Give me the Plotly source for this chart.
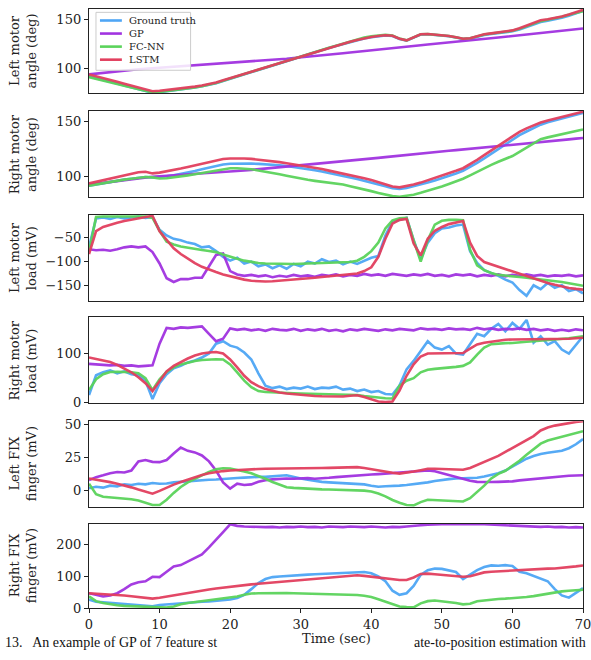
import plotly.graph_objects as go

TIME = list(range(0, 71))

SERIES_NAMES = ["Ground truth", "GP", "FC-NN", "LSTM"]
COLORS = ["#4fa6f5", "#a133e0", "#5bd35b", "#e23f5e"]

PANEL_LABELS = ["Left motor<br>angle (deg)", "Right motor<br>angle (deg)",
                "Left motor<br>load (mV)", "Right motor<br>load (mV)",
                "Left FIX<br>finger (mV)", "Right FIX<br>finger (mV)"]
Y_TICKS = [[100, 150], [100, 150], [-150, -100, -50], [0, 100], [0, 25, 50], [0, 100, 200]]
X_TICKS = [0, 10, 20, 30, 40, 50, 60, 70]
CAPTION_LEFT = "13.   An example of GP of 7 feature st"
CAPTION_RIGHT = "ate-to-position estimation with"

# ---- Panel 1: Left motor angle ----
gt1 = [92, 90.3, 88.5, 86.6, 84.6, 82.6, 80.6, 78.6, 76.6, 75.2, 75.8, 76.6, 77.5, 78.4, 79.4, 80.5, 81.8, 83.2, 85, 87.3,
       89.6, 91.8, 94, 96.3, 98.6, 100.9, 103.1, 105.4, 107.7, 110, 112.2, 114.5, 116.8, 119, 121.1, 123.1, 125.1, 127.1, 129, 130.8,
       132.1, 133.1, 133.8, 133.2, 130.2, 128.5, 131.7, 134.7, 135, 134.5, 133.9, 133, 131.7, 130.2, 130.6, 132.5, 134.4, 135.4, 136.3, 137.2,
       138.1, 140, 142.6, 145.3, 147.6, 149, 150.4, 152, 154, 156.6, 159]
gp1 = [94, 94.8, 95.8, 96.3, 97.2, 97.8, 98.6, 99.2, 99.8, 100.3, 100.6, 101.2, 101.8, 102.1, 102.6, 103, 103.5, 104, 104.6, 105,
       105.6, 106, 106.4, 107, 107.6, 108.1, 108.7, 109.4, 110, 110.7, 111.3, 112, 112.6, 113.3, 114, 114.8, 115.6, 116.4, 117.2, 118,
       118.8, 119.6, 120.3, 121, 121.7, 122.4, 123.1, 123.8, 124.5, 125.3, 126, 126.8, 127.6, 128.3, 129, 129.7, 130.4, 131.1, 131.8, 132.5,
       133.3, 134, 134.8, 135.6, 136.4, 137.2, 138, 138.8, 139.6, 140.4, 141]
fc1 = [91.2, 89.6, 88, 86.2, 84.3, 82.4, 80.5, 78.6, 76.8, 75.5, 76, 76.8, 77.7, 78.6, 79.6, 80.7, 82, 83.4, 85.2, 87.5,
       89.8, 92, 94.2, 96.5, 98.8, 101.1, 103.3, 105.6, 107.9, 110.2, 112.4, 114.7, 117, 119.2, 121.3, 123.4, 125.5, 127.6, 129.7, 131.6,
       133, 134, 134.6, 133.8, 130.6, 128.8, 132, 135, 135.2, 134.7, 134.1, 133.2, 131.9, 130.4, 130.9, 132.8, 134.8, 135.8, 136.7, 137.6,
       138.6, 140.6, 143.3, 146, 148.5, 150, 151.4, 153, 155, 157.2, 158.8]
ls1 = [94, 92.3, 90.5, 88.5, 86.5, 84.5, 82.5, 80.5, 78.3, 76.8, 77.3, 78, 78.8, 79.6, 80.5, 81.5, 82.7, 84, 85.8, 88,
       90.2, 92.3, 94.5, 96.7, 99, 101.2, 103.4, 105.7, 108, 110.3, 112.5, 114.7, 117, 119.2, 121.3, 123.3, 125.3, 127.3, 129.2, 131,
       132.3, 133.3, 134, 133.5, 130.5, 128.8, 132, 135, 135.3, 134.8, 134.2, 133.3, 132, 130.5, 131, 133, 135, 136, 137, 138,
       139, 141.2, 144, 146.8, 149.3, 150.5, 151.8, 153.3, 155.3, 157.8, 160]

# ---- Panel 2: Right motor angle ----
gt2 = [91.8, 93, 94.2, 95.3, 96.3, 97.2, 98, 98.8, 99.5, 99.2, 99.5, 100.2, 101.2, 102.3, 103.6, 105, 106.5, 108, 109.5, 110.8,
       111.5, 111.7, 111.7, 111.6, 111.4, 111.1, 110.7, 110.2, 109.5, 108.7, 107.8, 106.8, 105.7, 104.5, 103.3, 102, 100.6, 99.2, 97.8, 96.3,
       94.7, 93, 91.2, 89.5, 88.8, 89.7, 91.1, 92.7, 94.5, 96.5, 98.5, 100.6, 102.8, 105.2, 108.5, 112.3, 116.3, 120.4, 124.7, 129,
       133.3, 137.3, 140.6, 143.8, 146.8, 149, 150.8, 152.5, 154.2, 156, 157.5]
gp2 = [92.7, 93.5, 94.5, 95.3, 96.2, 97, 97.8, 98.6, 99.3, 99.8, 100.2, 100.6, 101, 101.4, 101.8, 102.2, 102.6, 103, 103.3, 103.6,
       104, 104.7, 105.4, 106, 106.6, 107.2, 107.7, 108.3, 108.9, 109.5, 110, 110.5, 111, 111.5, 112, 112.7, 113.4, 114, 114.6, 115.3,
       116, 116.8, 117.5, 118.2, 118.8, 119.5, 120.2, 120.8, 121.4, 122, 122.6, 123.2, 123.8, 124.4, 124.9, 125.4, 125.9, 126.4, 126.9, 127.4,
       128, 128.6, 129.3, 130, 130.7, 131.4, 132.1, 132.8, 133.5, 134.2, 134.7]
fc2 = [91.8, 93, 94.2, 95.3, 96.3, 97.2, 98, 98.8, 99.5, 99.2, 98.2, 98.5, 99.2, 100, 101, 102, 103.2, 104.4, 105.6, 106.8,
       107.4, 107.4, 107, 106.5, 105.5, 104.5, 103.3, 102, 100.7, 99.3, 98, 97, 96.1, 95.3, 94.7, 94, 92.8, 91.3, 89.6, 88.2,
       86.8, 85.2, 83.6, 82.3, 81.8, 82.5, 83.6, 85.3, 87, 89, 91, 93.3, 95.6, 98, 101, 104.3, 107.5, 110.5, 113.3, 115.8,
       118.5, 122.3, 126.2, 130.2, 133.7, 135.3, 136.8, 138.3, 139.8, 141.2, 142.4]
ls2 = [93.8, 95.3, 96.8, 98.3, 99.8, 101.2, 102.5, 103.8, 104.3, 102.8, 103.5, 104.6, 105.8, 107.2, 108.6, 110, 111.5, 113, 114.5, 115.8,
       116.3, 116.5, 116.3, 115.9, 115.3, 114.6, 113.8, 113, 112, 111, 110, 109, 108, 106.8, 105.3, 104, 102.7, 101.3, 100, 98.5,
       96.8, 95, 93, 91, 90.2, 91.2, 92.7, 94.5, 96.5, 98.6, 100.7, 102.8, 105.2, 107.5, 111, 115, 119.3, 123.5, 127.7, 132,
       136.3, 140.3, 143.5, 146.5, 148.8, 150.5, 152, 153.6, 155.2, 157, 158.5]

# ---- Panel 3: Left motor load ----
gt3 = [-70, -9, -7, -10, -6, -9, -7, -5, -8, -6, -33, -45, -52, -55, -60, -63, -70, -68, -78, -90,
       -98, -92, -104, -100, -110, -106, -114, -108, -115, -105, -110, -100, -104, -95, -101, -98, -106, -100, -105, -98,
       -92, -88, -45, -16, -12, -8, -55, -95, -60, -40, -30, -28, -24, -22, -78, -103, -118, -124, -130, -138,
       -144, -160, -172, -150, -158, -145, -155, -150, -162, -158, -167]
gp3 = [-74, -76, -75, -77, -74, -70, -68, -70, -68, -80, -104, -135, -143, -137, -137, -134, -134, -110, -86, -83,
       -120, -127, -130, -128, -131, -129, -133, -130, -132, -128, -131, -129, -132, -128, -130, -127, -131, -128, -130, -126,
       -129, -127, -130, -126, -128, -130, -127, -129, -126, -130, -128, -131, -127, -129, -127, -131, -128, -130, -127, -131,
       -128, -130, -127, -130, -128, -131, -129, -130, -128, -131, -129]
fc3 = [-80, -6, -5, -5, -5, -5, -5, -5, -5, -8, -35, -58, -64, -68, -71, -73.5, -75.5, -77.5, -80, -85,
       -90, -94, -98, -101, -103, -104, -104.5, -105, -105, -105, -104.5, -104, -104, -103.5, -103, -102.5, -102, -101, -98, -90,
       -78, -60, -30, -13, -9, -8, -55, -100, -55, -22, -14, -12, -12, -13, -75, -108, -118, -124, -128, -130,
       -131.5, -132.5, -134, -135.5, -137, -138.5, -140.5, -143, -145.5, -148, -151]
ls3 = [-84, -36, -27, -22, -18, -14.5, -12, -9, -6, -3.5, -36, -55, -72, -84, -94, -103, -111, -117, -122, -127,
       -131, -135, -138, -140.5, -141.5, -142, -141.5, -140.5, -139.5, -138.5, -137, -135.5, -134, -132.5, -131, -129.5, -128, -126.5, -125, -120,
       -112, -90, -52, -20, -12, -10, -62, -87, -52, -35, -27, -21, -17, -14.5, -60, -88, -101, -106, -111, -115,
       -120, -125, -130, -136, -141, -145, -149, -152.5, -155.5, -157.5, -159]

# ---- Panel 4: Right motor load ----
gt4 = [16, 56, 62, 66, 60, 64, 58, 56, 45, 8, 40, 58, 70, 75, 82, 86, 92, 100, 120, 125,
       116, 112, 102, 88, 60, 35, 30, 33, 28, 31, 29, 33, 28, 31, 30, 33, 27, 29, 24, 27,
       22, 24, 18, 17, 35, 68, 85, 105, 125, 112, 108, 115, 100, 98, 120, 140, 135, 150, 160, 145,
       162, 150, 168, 122, 135, 118, 125, 108, 100, 118, 135]
gp4 = [79, 78, 77, 76, 77, 75, 76, 74, 75, 76, 120, 152, 150, 153, 152, 154, 155, 140, 125, 130,
       151, 148, 150, 147, 149, 146, 150, 148, 147, 150, 146, 149, 147, 150, 146, 148, 145, 149, 147, 150,
       148, 146, 149, 147, 150, 148, 147, 151, 149, 150, 148, 151, 149, 150, 148, 152, 149, 151, 148, 150,
       149, 151, 148, 150, 147, 149, 146, 148, 146, 149, 147]
fc4 = [26, 48, 58, 62.5, 63, 63, 62, 60, 50, 26, 48, 63, 72, 78, 82, 85, 87, 88, 88.5, 88,
       78, 62, 45, 32, 24, 22, 21, 20.5, 20, 19.5, 19, 18.5, 18, 18, 18, 17.5, 17, 17, 16, 14,
       12, 10.5, 9.5, 9, 35, 45, 50, 62, 67, 69, 70, 72, 73, 75, 82, 98, 112, 119, 120.5, 121,
       121.5, 122, 124, 125, 126, 127, 128, 129.5, 131, 133, 135]
ls4 = [92, 89, 86, 83, 77, 70, 62, 52, 40, 24, 45, 64, 75, 83, 90, 96, 100, 102, 103, 100,
       88, 72, 55, 42, 34, 28, 24, 21, 19, 17.5, 16, 15, 14, 13.5, 13, 12.5, 13, 14.5, 15.5, 12,
       7, 3, 2, 3, 25, 55, 78, 94, 100, 100.5, 100.5, 100.5, 100.5, 101, 110, 118.5, 122, 124.5, 126.5, 128,
       128.5, 128.7, 128.8, 128.8, 128.5, 128.5, 128.3, 129, 130, 131, 132]

# ---- Panel 5: Left FIX finger ----
gt5 = [1.5, 2.7, 2, 3.5, 3, 4.5, 4, 5, 4.5, 5.5, 5, 5.2, 6, 6.5, 7, 7.5, 7.7, 8, 8.2, 8.7,
       9, 9.3, 9.6, 10, 10.2, 10.2, 10.8, 11, 11.4, 10, 9, 8, 7, 6.4, 6, 5.8, 5.5, 5.3, 5.2, 4.5,
       3.5, 2.7, 3, 3, 3.5, 4, 4.5, 5.2, 6, 7, 8, 8.5, 9, 9, 9, 9.5, 10.5, 11.5, 13, 15,
       18, 21.5, 24, 26, 27.6, 28.5, 29.5, 30, 32, 35, 39]
gp5 = [7.7, 10, 11.4, 13, 13.9, 13.5, 15, 22, 23, 21.6, 21.4, 23, 28, 32.5, 30, 28.8, 26.5, 22, 15, 6,
       1.2, 5, 4, 4.5, 6.5, 7.7, 8.3, 8.7, 9, 8.8, 9, 9.2, 8.8, 9, 9.5, 10, 10.5, 11, 11.4, 11.6,
       12, 12.3, 12.7, 13.2, 13.8, 14, 14.3, 14.7, 15, 14.5, 13, 11.4, 10, 8.5, 7.3, 6.4, 6.2, 6.3, 6.4, 6.4,
       6.8, 7.5, 8, 8.7, 9.3, 9.8, 10.2, 10.6, 11, 11.2, 11.4]
fc5 = [5, -3, -5, -5.5, -5.8, -6, -6.8, -7.8, -9.5, -11.2, -11.2, -7.2, -2, 2.5, 6, 8.8, 11.5, 14, 16, 16.8,
       16.6, 15.6, 14.3, 12.9, 11, 8.8, 6.3, 4, 2.3, 1.8, 1.4, 1.1, 0.9, 0.7, 0.6, 0.5, 0.4, 0.3, 0.1, -0.3,
       -1, -2.5, -4.6, -7.4, -9.5, -11.2, -11.5, -9, -7.2, -7.5, -7.8, -8, -8.3, -8.5, -6, -1.5, 3.5, 9, 12.5, 14.8,
       18.5, 22.5, 27, 31.5, 35.5, 37.8, 39.3, 40.8, 42.3, 43.8, 45]
ls5 = [9, 8.2, 7.2, 6.2, 5, 3.7, 2.2, 0.5, -1.3, -2.6, -0.5, 2, 4.3, 6.3, 8.3, 10, 11.7, 12.9, 13.9, 14.6,
       15.1, 15.5, 15.8, 16, 16.2, 16.4, 16.4, 16.4, 16.4, 16.5, 16.6, 16.7, 16.8, 16.9, 17, 17.2, 17.4, 17.5, 17.6, 17,
       16, 15, 14.3, 13.3, 12.7, 13.3, 14.3, 15.3, 16.4, 16.4, 16.2, 16, 15.8, 15.6, 17, 19.2, 21.5, 23.8, 26.2, 29.2,
       32.2, 35.2, 38.2, 41.2, 45.5, 47.8, 49.2, 50.3, 51.2, 52, 52.5]

# ---- Panel 6: Right FIX finger ----
gt6 = [27, 20, 18, 16, 15, 13, 12, 10, 8, 6, 10, 12, 14, 15, 17, 18, 20, 21, 23, 25,
       27, 32, 42, 60, 79, 92, 98, 100, 102, 104, 105, 106, 107, 108, 109, 110, 112, 113, 115, 114,
       110, 100, 85, 55, 42, 47, 70, 105, 120, 125, 124, 120, 114, 92, 105, 120, 130, 135, 134, 136,
       133, 115, 110, 102, 95, 85, 60, 40, 33, 47, 63]
gp6 = [47, 42, 37, 40, 47, 60, 75, 82, 85, 99, 98, 115, 132, 136, 148, 160, 170, 192, 215, 240,
       265, 260, 258, 257, 258, 256, 257, 255, 257, 256, 258, 256, 257, 255, 258, 257, 256, 258, 257, 256,
       258, 256, 255, 257, 256, 258, 259, 262, 264, 265, 264, 266, 265, 266, 265, 266, 265, 264, 262, 261,
       260, 259, 260, 258, 257, 258, 256, 257, 255, 256, 255]
fc6 = [37, 22, 16, 12, 9, 7, 6, 5, 4, 3, 2, 1.5, 5, 12, 16, 19, 22, 25, 27, 30,
       33, 37, 42, 46, 47, 47.5, 48, 48, 47.5, 47, 46.5, 46, 45.5, 45, 44.5, 44, 43, 42.5, 41.5, 39,
       35, 28, 20, 12, 5, 3, 2.5, 15, 22, 24, 22, 19, 16, 12, 14, 22, 25, 27, 29, 30,
       31, 32, 35, 38, 42, 46, 51, 53, 55, 56.5, 58]
ls6 = [47, 46, 45, 43.5, 42, 40, 37.5, 35, 32.5, 30, 33, 37, 41, 45, 48, 52, 55.5, 59, 62, 65,
       68, 70.5, 73, 75, 77, 79, 80.5, 82, 83.5, 85, 87, 89, 91, 93, 95, 97, 99.5, 102, 104, 102,
       99.5, 97, 94, 91, 89, 89, 97, 108, 109, 107, 105, 103, 101, 99, 101, 108, 113, 115, 116.5, 118,
       119.5, 121, 122, 123, 124, 125, 125.5, 127, 129, 132, 135]

PANELS = [
    (gt1, gp1, fc1, ls1),
    (gt2, gp2, fc2, ls2),
    (gt3, gp3, fc3, ls3),
    (gt4, gp4, fc4, ls4),
    (gt5, gp5, fc5, ls5),
    (gt6, gp6, fc6, ls6),
]

# layout constants (pixel geometry of the figure)
W, H = 591, 660
ML, MR = 89, 6
PW = W - ML - MR
PANEL_PX = [(5, 91), (109, 196.7), (215, 302), (319.3, 406.3), (425, 512), (529.3, 615.3)]
Y_RANGES = [[74.6, 161], [81.4, 159.1], [-182, -2], [0, 173], [-12.5, 52.5], [0, 267]]


def px_x(px):
    return (px - ML) / PW


def px_y(py):
    return 1 - py / H


FONT = "DejaVu Serif"
TXT = "#222"
fig = go.Figure()

for i, series in enumerate(PANELS):
    ax = "" if i == 0 else str(i + 1)
    for j, vals in enumerate(series):
        fig.add_trace(go.Scatter(
            x=TIME, y=vals, mode="lines", name=SERIES_NAMES[j],
            line=dict(color=COLORS[j], width=2.6), opacity=0.95,
            showlegend=False, xaxis="x" + ax, yaxis="y" + ax,
        ))

layout = dict(
    width=W, height=H, margin=dict(l=ML, r=MR, t=0, b=0),
    paper_bgcolor="white", plot_bgcolor="white",
    font=dict(family=FONT, size=13, color=TXT),
    showlegend=False,
)

annotations = []
shapes = []
for i in range(6):
    ax = "" if i == 0 else str(i + 1)
    top, bot = PANEL_PX[i]
    dom = [px_y(bot), px_y(top)]
    layout["xaxis" + ax] = dict(
        domain=[0, 1], range=[0, 70], anchor="y" + ax,
        showline=True, linecolor=TXT, linewidth=1.4, mirror=True,
        showgrid=False, zeroline=False,
        ticks="outside" if i == 5 else "", ticklen=4, tickcolor=TXT,
        tickvals=X_TICKS, showticklabels=(i == 5),
        ticklabeloverflow="allow",
        tickfont=dict(family=FONT, size=13, color=TXT),
    )
    layout["yaxis" + ax] = dict(
        domain=dom, range=Y_RANGES[i], anchor="x" + ax,
        showline=True, linecolor=TXT, linewidth=1.4, mirror=True,
        showgrid=False, zeroline=False,
        ticks="outside", ticklen=4, tickcolor=TXT,
        tickvals=Y_TICKS[i],
        tickfont=dict(family=FONT, size=13, color=TXT),
    )
    annotations.append(dict(
        text=PANEL_LABELS[i], xref="paper", yref="paper",
        x=px_x(23), y=(dom[0] + dom[1]) / 2,
        xanchor="center", yanchor="middle", textangle=-90, showarrow=False,
        font=dict(family=FONT, size=13, color=TXT),
    ))

# x-axis title
annotations.append(dict(
    text="Time (sec)", xref="paper", yref="paper", x=0.5, y=px_y(646),
    xanchor="center", yanchor="middle", showarrow=False,
    font=dict(family=FONT, size=13, color=TXT),
))

# caption fragment below the chart (split around the axis title, as in the source)
annotations.append(dict(
    text=CAPTION_LEFT, xref="paper", yref="paper", x=px_x(3), y=0,
    xanchor="left", yanchor="bottom", showarrow=False,
    font=dict(family="Liberation Serif", size=14, color="#111"),
))
annotations.append(dict(
    text=CAPTION_RIGHT, xref="paper", yref="paper", x=px_x(590), y=0,
    xanchor="right", yanchor="bottom", showarrow=False,
    font=dict(family="Liberation Serif", size=14, color="#111"),
))

# legend (drawn manually to match the compact matplotlib legend)
LEG_BOX = (96, 8.5, 191, 67.5)
shapes.append(dict(type="rect", xref="paper", yref="paper",
                   x0=px_x(LEG_BOX[0]), x1=px_x(LEG_BOX[2]),
                   y0=px_y(LEG_BOX[3]), y1=px_y(LEG_BOX[1]),
                   line=dict(color="#cccccc", width=1), fillcolor="rgba(255,255,255,0.85)",
                   layer="above"))
for k, name in enumerate(SERIES_NAMES):
    yy = px_y(16.8 + 13.3 * k)
    shapes.append(dict(type="line", xref="paper", yref="paper",
                       x0=px_x(100), x1=px_x(122), y0=yy, y1=yy,
                       line=dict(color=COLORS[k], width=2.6), layer="above"))
    annotations.append(dict(
        text=name, xref="paper", yref="paper", x=px_x(127), y=yy,
        xanchor="left", yanchor="middle", showarrow=False,
        font=dict(family=FONT, size=10, color=TXT),
    ))

layout["annotations"] = annotations
layout["shapes"] = shapes

fig.update_layout(**layout)
fig.write_html(
    "out.html",
    config={"displayModeBar": False},
    post_script=("document.documentElement.style.overflow='hidden';"
                 "document.body.style.overflow='hidden';"
                 "document.body.style.margin='0px';document.body.style.padding='0px';"),
)
